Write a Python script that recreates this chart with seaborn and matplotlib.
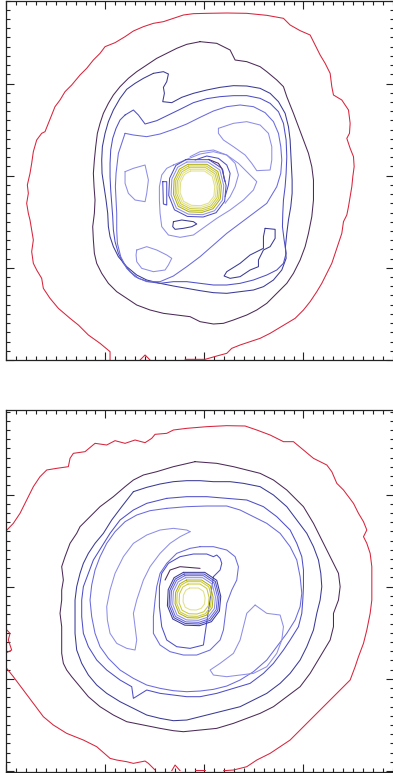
import numpy as np
import matplotlib
matplotlib.use("Agg")
import matplotlib.pyplot as plt
from matplotlib.ticker import FixedLocator
import seaborn as sns

sns.set_style("ticks")

# ---------------- palette (contour levels) ----------------
level_colors = {
    "red": "#d8243c",
    "purple": "#4c2a58",
    "navy": "#3a3a96",
    "blue": "#4e4ec8",
    "mblue": "#6a6ade",
    "lblue": "#8e8ee8",
    "yel1": "#b0b014",
    "yel2": "#caca40",
    "yel3": "#e0e088",
}

# ---------------- TOP PANEL contour vertices ----------------
top_red_x = [330, 330, 300, 265, 235, 210, 175, 150, 130, 125, 110, 100, 95, 100, 95, 90, 85, 80, 85, 82, 90, 95, 100, 110, 125, 135, 145, 155, 165, 180, 195, 215, 240, 260, 280, 300, 315, 345, 375, 400, 430, 460, 490, 520, 550, 580, 620, 680, 740, 800, 850, 870, 900, 930, 945, 960, 975, 990, 995, 1000, 1025, 1045, 1050, 1048, 1040, 1050, 1060, 1062, 1058, 1055, 1050, 1045, 1040, 1030, 1025, 1015, 1005, 995, 980, 965, 950, 930, 910, 885, 860, 835, 810, 780, 750, 720, 695, 680, 650, 615, 555]
top_red_y = [1080, 1055, 1030, 1005, 975, 955, 925, 895, 865, 835, 810, 790, 755, 720, 690, 660, 640, 610, 580, 555, 520, 490, 455, 420, 400, 395, 370, 345, 320, 300, 275, 255, 225, 205, 180, 160, 140, 128, 110, 93, 80, 70, 65, 55, 45, 41, 40, 39, 40, 46, 55, 75, 92, 105, 135, 165, 190, 220, 260, 285, 300, 330, 370, 400, 415, 445, 470, 500, 530, 560, 590, 620, 645, 665, 700, 730, 760, 790, 820, 850, 875, 905, 930, 955, 970, 985, 1000, 1015, 1025, 1035, 1045, 1060, 1068, 1078, 1078]
top_redbit_x = [420, 435, 450]
top_redbit_y = [1080, 1065, 1080]

top_purple_x = [600, 650, 690, 705, 740, 780, 800, 830, 850, 860, 880, 895, 910, 925, 935, 940, 940, 935, 925, 915, 900, 880, 860, 830, 800, 770, 740, 700, 670, 640, 600, 570, 530, 490, 450, 410, 380, 350, 325, 305, 290, 283, 280, 278, 283, 285, 282, 280, 283, 287, 292, 300, 310, 325, 340, 360, 385, 410, 440, 470, 500, 530, 560, 600]
top_purple_y = [125, 130, 150, 180, 185, 200, 215, 240, 260, 290, 340, 380, 420, 460, 500, 540, 600, 650, 700, 740, 780, 820, 850, 880, 910, 930, 945, 960, 970, 972, 965, 950, 945, 940, 930, 915, 895, 875, 850, 820, 790, 760, 720, 680, 640, 600, 560, 520, 480, 440, 400, 370, 340, 310, 285, 260, 235, 215, 195, 175, 160, 145, 133, 125]

top_navy_x = [460, 490, 505, 500, 490, 493, 488, 515, 545, 580, 620, 660, 700, 740, 780, 810, 835, 855, 865, 870, 872, 874, 876, 876, 872, 865, 860, 856, 858, 845, 820, 790, 760, 720, 680, 640, 600, 560, 520, 480, 440, 410, 380, 355, 340, 330, 325, 323, 318, 312, 306, 305, 307, 315, 325, 340, 360, 380, 405, 430, 460]
top_navy_y = [220, 215, 222, 245, 262, 280, 305, 308, 292, 280, 270, 262, 257, 258, 265, 280, 305, 340, 380, 420, 460, 500, 540, 580, 620, 660, 700, 740, 775, 810, 840, 860, 870, 875, 880, 878, 872, 865, 858, 850, 840, 825, 800, 770, 740, 710, 680, 640, 600, 560, 520, 480, 440, 400, 365, 330, 295, 268, 250, 235, 220]

top_blue_x = [375, 400, 415, 435, 470, 505, 540, 580, 620, 660, 700, 740, 780, 810, 835, 850, 858, 860, 858, 855, 850, 848, 847, 852, 858, 850, 830, 800, 760, 720, 680, 640, 600, 560, 520, 480, 445, 415, 390, 370, 355, 345, 340, 338, 335, 332, 330, 330, 332, 338, 348, 360, 375]
top_blue_y = [345, 330, 345, 372, 362, 345, 328, 308, 296, 290, 287, 287, 295, 310, 335, 370, 420, 470, 520, 560, 600, 640, 680, 720, 760, 790, 810, 825, 840, 850, 855, 855, 850, 845, 845, 850, 845, 835, 815, 790, 760, 725, 690, 650, 610, 570, 530, 490, 450, 415, 385, 360, 345]

top_mblue_x = [375, 400, 440, 480, 520, 560, 600, 640, 680, 720, 760, 795, 820, 835, 842, 845, 842, 830, 800, 760, 720, 680, 640, 600, 560, 520, 480, 440, 405, 380, 362, 352, 350, 350, 348, 346, 348, 355, 375]
top_mblue_y = [400, 405, 410, 402, 388, 372, 352, 333, 320, 315, 320, 338, 365, 400, 440, 480, 520, 560, 610, 640, 670, 700, 735, 770, 800, 828, 845, 845, 830, 805, 770, 730, 690, 640, 600, 560, 520, 460, 400]

top_inner_x = [520, 500, 485, 478, 478, 480, 485, 505, 540, 580, 615, 650, 690, 730, 760, 770, 745, 715, 680, 640, 600, 560, 520]
top_inner_y = [495, 505, 525, 560, 600, 640, 680, 705, 712, 705, 680, 655, 630, 600, 570, 545, 520, 490, 465, 455, 462, 478, 495]

top_isl1_x = [655, 700, 740, 780, 805, 815, 815, 810, 770, 755, 735, 700, 670, 655, 655]
top_isl1_y = [385, 370, 365, 375, 400, 440, 480, 510, 512, 490, 465, 440, 420, 400, 385]
top_isl2_x = [375, 400, 435, 445, 440, 435, 405, 385, 375, 375]
top_isl2_y = [515, 505, 495, 540, 580, 605, 600, 580, 550, 515]
top_isl3_x = [410, 440, 470, 500, 515, 505, 495, 460, 425, 410, 408, 410]
top_isl3_y = [750, 740, 750, 765, 775, 795, 810, 815, 805, 785, 765, 750]
top_isl4_x = [795, 825, 825, 810, 790, 775, 775, 750, 720, 690, 672, 680, 720, 750, 790, 790, 795]
top_isl4_y = [685, 688, 715, 740, 750, 780, 800, 810, 830, 835, 828, 815, 790, 765, 745, 710, 685]
top_isl5_x = [520, 545, 580, 590, 575, 550, 525, 518, 520]
top_isl5_y = [665, 660, 665, 672, 680, 685, 688, 680, 665]
top_isl6_x = [488, 500, 500, 490, 488]
top_isl6_y = [545, 545, 615, 612, 545]

top_arc1_x = [570, 600, 640, 680, 705, 715, 705, 690, 675]
top_arc1_y = [470, 455, 450, 465, 490, 525, 560, 590, 610]
top_arc2_x = [585, 620, 655, 680, 690, 685, 675]
top_arc2_y = [480, 468, 475, 495, 520, 555, 590]
top_arc3_x = [625, 655, 668, 672, 675]
top_arc3_y = [478, 490, 510, 535, 545]

top_center_x = 592
top_center_y = 565
top_ring_radii = [86, 79, 72, 67, 62, 57, 52]
top_ring_levels = ["blue", "lblue", "yel1", "yel2", "yel2", "yel3", "yel3"]

# ---------------- BOTTOM PANEL contour vertices ----------------
bot_red_x = [16, 40, 60, 80, 100, 120, 140, 170, 205, 210, 220, 255, 285, 320, 345, 375, 405, 435, 455, 465, 500, 520, 560, 620, 680, 735, 770, 810, 850, 880, 910, 940, 980, 995, 1010, 1030, 1060, 1075, 1090, 1100, 1090, 1100, 1110, 1115, 1115, 1115, 1110, 1100, 1090, 1075, 1065, 1050, 1020, 990, 960, 930, 900, 870, 840, 810, 770, 740, 700, 670]
bot_red_y = [395, 370, 340, 300, 260, 230, 210, 205, 200, 175, 160, 155, 130, 135, 122, 130, 120, 128, 115, 103, 100, 90, 85, 80, 77, 78, 90, 105, 125, 125, 150, 175, 195, 215, 250, 270, 310, 340, 365, 390, 410, 430, 460, 500, 540, 600, 640, 690, 730, 770, 800, 840, 870, 900, 930, 960, 990, 1020, 1040, 1060, 1080, 1100, 1110, 1112]
bot_red2_x = [16, 40, 70, 100, 130, 160, 200, 250, 290, 330, 350, 380, 400, 435, 445, 465]
bot_red2_y = [800, 830, 870, 910, 950, 975, 1000, 1020, 1040, 1075, 1080, 1085, 1090, 1083, 1090, 1110]
bot_red3_x = [16, 30, 25, 35, 16]
bot_red3_y = [685, 700, 720, 750, 760]
bot_red4_x = [515, 525, 540]
bot_red4_y = [1112, 1095, 1112]
bot_red5_x = [585, 615]
bot_red5_y = [1110, 1110]

bot_purple_x = [585, 520, 470, 430, 400, 375, 340, 300, 270, 240, 230, 210, 195, 185, 190, 185, 185, 180, 185, 185, 185, 190, 200, 215, 240, 265, 300, 340, 380, 430, 480, 520, 550, 600, 650, 700, 740, 780, 820, 860, 900, 930, 960, 990, 1000, 1000, 1015, 1020, 1015, 1000, 980, 960, 940, 910, 890, 860, 820, 780, 740, 700, 650, 585]
bot_purple_y = [185, 200, 215, 225, 240, 260, 290, 320, 350, 380, 400, 430, 470, 500, 540, 570, 600, 640, 680, 720, 760, 790, 810, 830, 860, 890, 920, 945, 965, 975, 985, 992, 995, 990, 985, 970, 955, 940, 920, 890, 860, 820, 770, 720, 680, 640, 600, 560, 520, 490, 450, 410, 370, 320, 300, 270, 240, 220, 210, 200, 190, 185]

bot_navy_x = [400, 440, 480, 520, 560, 600, 640, 690, 730, 780, 820, 860, 890, 920, 940, 955, 962, 965, 960, 950, 940, 920, 900, 870, 840, 800, 760, 720, 680, 640, 600, 560, 520, 480, 440, 400, 360, 320, 290, 265, 245, 230, 225, 225, 225, 230, 240, 250, 265, 285, 310, 335, 365, 400]
bot_navy_y = [275, 262, 252, 245, 242, 242, 245, 245, 250, 260, 285, 320, 360, 400, 440, 480, 520, 560, 600, 640, 690, 740, 780, 820, 850, 880, 900, 920, 930, 940, 950, 960, 962, 955, 945, 925, 905, 880, 855, 825, 790, 750, 700, 650, 600, 560, 520, 490, 460, 430, 400, 360, 320, 275]

bot_blue_x = [500, 560, 620, 680, 740, 790, 830, 870, 890, 905, 910, 910, 908, 905, 895, 870, 850, 820, 790, 750, 700, 650, 600, 560, 520, 480, 440, 400, 395, 360, 320, 290, 265, 250, 245, 245, 250, 265, 280, 305, 330, 360, 400, 440, 500]
bot_blue_y = [295, 290, 290, 295, 300, 320, 350, 390, 430, 470, 510, 560, 600, 640, 680, 720, 750, 790, 820, 850, 865, 880, 890, 890, 885, 880, 870, 895, 860, 840, 810, 780, 740, 700, 650, 600, 560, 520, 480, 440, 400, 360, 330, 310, 295]

bot_mblue_x = [500, 560, 620, 680, 720, 760, 800, 840, 870, 890, 900, 905, 900, 885, 860, 830, 800, 760, 720, 680, 640, 600, 560, 520, 480, 440, 400, 360, 325, 300, 285, 275, 270, 275, 285, 300, 320, 345, 375, 410, 450, 500]
bot_mblue_y = [325, 320, 318, 318, 330, 350, 370, 400, 440, 480, 530, 580, 620, 660, 700, 740, 780, 815, 840, 858, 868, 873, 875, 872, 865, 855, 835, 810, 775, 740, 700, 650, 600, 555, 510, 470, 430, 395, 365, 345, 332, 325]

bot_cres1_x = [570, 560, 520, 480, 440, 400, 370, 345, 330, 320, 322, 330, 350, 380, 405, 410, 405, 400, 410, 420, 430, 450, 480, 510, 540, 570]
bot_cres1_y = [395, 390, 385, 390, 405, 430, 470, 520, 570, 620, 660, 700, 730, 745, 750, 720, 680, 640, 600, 570, 540, 500, 460, 430, 410, 395]
bot_cres2_x = [765, 740, 730, 720, 700, 660, 630, 640, 680, 720, 760, 800, 830, 845, 850, 840, 800, 765]
bot_cres2_y = [615, 640, 680, 720, 760, 790, 810, 825, 830, 825, 820, 800, 760, 720, 680, 645, 640, 615]

bot_inner1_x = [600, 640, 680, 705, 715, 710, 695, 680, 675, 670, 660, 630, 590, 550, 510, 480, 460, 460, 465, 470, 480, 500, 530, 570, 600]
bot_inner1_y = [440, 440, 450, 470, 500, 540, 570, 610, 650, 690, 720, 750, 765, 765, 755, 735, 700, 650, 600, 560, 520, 490, 460, 445, 440]
bot_inner2_x = [640, 660, 665, 660, 650, 640, 620, 580, 540, 505, 485, 478, 478, 485, 500, 530, 570, 610, 640]
bot_inner2_y = [530, 510, 490, 475, 465, 470, 462, 462, 470, 490, 520, 560, 620, 680, 720, 740, 745, 735, 530]
bot_arc_x = [495, 510, 540, 600]
bot_arc_y = [540, 510, 500, 505]

bot_center_x = 582
bot_center_y = 597
bot_ring_radii = [80, 75, 70, 64, 57, 52, 45, 33]
bot_ring_levels = ["navy", "blue", "mblue", "lblue", "yel1", "yel2", "yel2", "yel3"]

# unit ring shape (rounded octagon)
ring_dx = [-0.40, 0.40, 0.85, 1.00, 0.95, 0.65, 0.20, -0.35, -0.80, -1.00, -0.97, -0.75, -0.40]
ring_dy = [-1.00, -1.00, -0.70, -0.10, 0.45, 0.85, 1.00, 0.98, 0.75, 0.25, -0.35, -0.80, -1.00]

x_major_center, x_major_step = 613, 297
top_y_center, bot_y_center, y_major_step = 527, 560, 276.5

top_lines = [
    (top_red_x, top_red_y, "red"), (top_redbit_x, top_redbit_y, "red"),
    (top_purple_x, top_purple_y, "purple"), (top_navy_x, top_navy_y, "navy"),
    (top_blue_x, top_blue_y, "blue"), (top_mblue_x, top_mblue_y, "mblue"),
    (top_inner_x, top_inner_y, "lblue"),
    (top_isl1_x, top_isl1_y, "lblue"), (top_isl2_x, top_isl2_y, "lblue"),
    (top_isl3_x, top_isl3_y, "lblue"), (top_isl4_x, top_isl4_y, "navy"),
    (top_isl5_x, top_isl5_y, "navy"), (top_isl6_x, top_isl6_y, "blue"),
    (top_arc1_x, top_arc1_y, "lblue"), (top_arc2_x, top_arc2_y, "blue"),
    (top_arc3_x, top_arc3_y, "purple"),
]
bot_lines = [
    (bot_red_x, bot_red_y, "red"), (bot_red2_x, bot_red2_y, "red"),
    (bot_red3_x, bot_red3_y, "red"), (bot_red4_x, bot_red4_y, "red"),
    (bot_red5_x, bot_red5_y, "red"),
    (bot_purple_x, bot_purple_y, "purple"), (bot_navy_x, bot_navy_y, "navy"),
    (bot_blue_x, bot_blue_y, "blue"), (bot_mblue_x, bot_mblue_y, "mblue"),
    (bot_cres1_x, bot_cres1_y, "lblue"), (bot_cres2_x, bot_cres2_y, "lblue"),
    (bot_inner1_x, bot_inner1_y, "mblue"), (bot_inner2_x, bot_inner2_y, "blue"),
    (bot_arc_x, bot_arc_y, "purple"),
]

W, H = 393, 773
fig = plt.figure(figsize=(W / 100, H / 100), dpi=100)
ax_top = fig.add_axes([5.5 / W, 1 - 360 / H, (393.5 - 5.5) / W, 359.5 / H])
ax_bot = fig.add_axes([5.5 / W, 1 - 771.7 / H, (393.5 - 5.5) / W, (771.7 - 410) / H])

LW = 0.75


def draw(ax, lines, cx, cy, radii, levels):
    for xs, ys, lev in lines:
        sns.lineplot(x=xs, y=ys, sort=False, estimator=None, color=level_colors[lev],
                     lw=LW, ax=ax, legend=False)
    for r, lev in zip(radii, levels):
        xs = [cx + r * d for d in ring_dx]
        ys = [cy + r * d for d in ring_dy]
        sns.lineplot(x=xs, y=ys, sort=False, estimator=None, color=level_colors[lev],
                     lw=LW, ax=ax, legend=False)


draw(ax_top, top_lines, top_center_x, top_center_y, top_ring_radii, top_ring_levels)
draw(ax_bot, bot_lines, bot_center_x, bot_center_y, bot_ring_radii, bot_ring_levels)

k = np.arange(-40, 41)
for ax, ylim, yc in [(ax_top, (1080, 1.5), top_y_center), (ax_bot, (1115, 30), bot_y_center)]:
    ax.xaxis.set_major_locator(FixedLocator(x_major_center + x_major_step * np.arange(-3, 4)))
    ax.xaxis.set_minor_locator(FixedLocator(x_major_center + x_major_step / 10 * k))
    ax.yaxis.set_major_locator(FixedLocator(yc + y_major_step * np.arange(-3, 4)))
    ax.yaxis.set_minor_locator(FixedLocator(yc + y_major_step / 10 * k))
    ax.set_xlim(16.5, 1180)
    ax.set_ylim(*ylim)
    ax.tick_params(which="both", direction="in", top=True, right=True,
                   labelbottom=False, labelleft=False, color="#222222", width=0.8)
    ax.tick_params(which="major", length=5.5)
    ax.tick_params(which="minor", length=3)
    for s in ax.spines.values():
        s.set_color("#222222")
        s.set_linewidth(0.9)
    ax.set_xlabel("")
    ax.set_ylabel("")

fig.savefig("out.png", dpi=100)
